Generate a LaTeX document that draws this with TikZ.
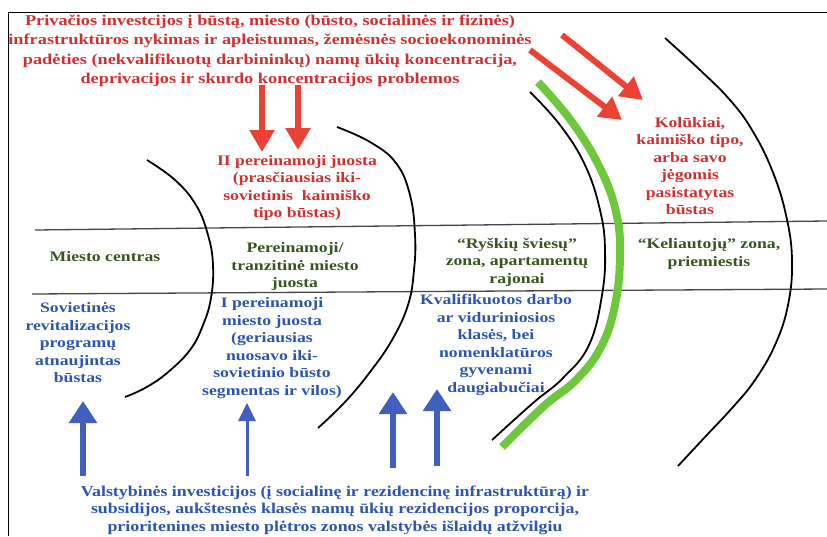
\documentclass[tikz,border=0pt]{standalone}
\usepackage{fontspec}
\setmainfont{Liberation Serif}[FakeStretch=1.22]
\newfontfamily\botfont{Liberation Serif}[FakeStretch=1.19]
\usetikzlibrary{arrows.meta}
\definecolor{redtxt}{RGB}{208,48,48}
\definecolor{redarr}{RGB}{236,66,52}
\definecolor{bluetxt}{RGB}{45,85,175}
\definecolor{bluearr}{RGB}{65,95,190}
\definecolor{greentxt}{RGB}{55,85,30}
\definecolor{greenarc}{RGB}{110,200,60}
\definecolor{rule}{RGB}{70,70,70}
\begin{document}
\begin{tikzpicture}[x=1pt,y=-1pt,
  txt/.style={align=center, inner sep=0pt, font=\fontsize{14.5}{17.5}\selectfont\bfseries},
  toptxt/.style={align=center, inner sep=0pt, font=\fontsize{15}{19.5}\selectfont\bfseries, text=redtxt},
  bottxt/.style={align=center, inner sep=0pt, font=\botfont\fontsize{15}{17.5}\selectfont\bfseries, text=bluetxt},
  arcline/.style={draw=black, line width=1.8pt},
  hline/.style={draw=rule, line width=1.3pt},
  redarrow/.style={draw=redarr, line width=6pt, -{Triangle[width=24pt,length=22pt]}},
  bigblue/.style={draw=bluearr, line width=6pt, -{Triangle[width=27pt,length=22pt]}},
  thinblue/.style={draw=bluearr, line width=3pt, -{Triangle[width=17pt,length=18pt]}}]
\useasboundingbox (0,0) rectangle (827,536);
% frame
\draw[line width=1pt] (8,536) -- (8,12) -- (827,12);
% horizontal rules
\draw[hline] (35,230) -- (827,221);
\draw[hline] (32,294) -- (827,289);
% arcs
\draw[arcline] plot[smooth, tension=0.7] coordinates {(147,160) (175,180) (196,205) (208,235) (213,265) (211,298) (203,325) (190,350) (167,373) (145,388) (125,397)};
\draw[arcline] plot[smooth, tension=0.7] coordinates {(337,127) (370,142) (396,163) (410,195) (415,235) (414,270) (408,305) (392,340) (370,372) (345,402) (318,428)};
\draw[arcline] plot[smooth, tension=0.7] coordinates {(530,92) (560,125) (585,165) (600,210) (605,250) (602,295) (589,345) (563,378) (533,403) (492,440)};
\draw[draw=greenarc, line width=8pt] plot[smooth, tension=0.7] coordinates {(538,82) (572,122) (600,168) (616,212) (620,255) (615,305) (601,347) (576,380) (544,406) (502,447)};
\draw[arcline] plot[smooth, tension=0.7] coordinates {(665,38) (700,70) (730,100) (752,130) (772,170) (786,215) (792,260) (788,305) (775,345) (755,380) (733,407) (705,437) (678,466)};
% red arrows
\coordinate (ra1s) at (262,85);  \coordinate (ra1e) at (262,152);
\coordinate (ra2s) at (298,85);  \coordinate (ra2e) at (298,150);
\coordinate (ra3s) at (562,35);  \coordinate (ra3e) at (643,100);
\coordinate (ra4s) at (530,50);  \coordinate (ra4e) at (622,120);
\draw[redarrow] (ra1s) -- (ra1e);
\draw[redarrow] (ra2s) -- (ra2e);
\draw[redarrow] (ra3s) -- (ra3e);
\draw[redarrow] (ra4s) -- (ra4e);
% blue arrows
\coordinate (ba1s) at (83,476);  \coordinate (ba1e) at (83,401);
\coordinate (ba2s) at (247,476); \coordinate (ba2e) at (247,403);
\coordinate (ba3s) at (393,468); \coordinate (ba3e) at (393,392);
\coordinate (ba4s) at (437,466); \coordinate (ba4e) at (437,389);
\draw[bigblue] (ba1s) -- (ba1e);
\draw[thinblue] (ba2s) -- (ba2e);
\draw[bigblue] (ba3s) -- (ba3e);
\draw[bigblue] (ba4s) -- (ba4e);
% texts
\node[toptxt] (top) at (270,51) {Privačios investcijos į būstą, miesto (būsto, socialinės ir fizinės)\\infrastruktūros nykimas ir apleistumas, žemėsnės socioekonominės\\padėties (nekvalifikuotų darbininkų) namų ūkių koncentracija,\\deprivacijos ir skurdo koncentracijos problemos};
\node[txt, text=redtxt] (ii) at (297,188) {II pereinamoji juosta\\(prasčiausias iki-\\sovietinis\ \ kaimiško\\tipo būstas)};
\node[txt, text=redtxt] (kol) at (690,166) {Kolūkiai,\\kaimiško tipo,\\arba savo\\jėgomis\\pasistatytas\\būstas};
\node[txt, text=greentxt] (mc) at (105,257) {Miesto centras};
\node[txt, text=greentxt] (per) at (295,267) {Pereinamoji/\\tranzitinė miesto\\juosta};
\node[txt, text=greentxt] (rys) at (517,262) {“Ryškių šviesų”\\zona, apartamentų\\rajonai};
\node[txt, text=greentxt] (kel) at (709,254) {“Keliautojų” zona,\\priemiestis};
\node[txt, text=bluetxt] (sov) at (78,343) {Sovietinės\\revitalizacijos\\programų\\atnaujintas\\būstas};
\node[txt, text=bluetxt] (ip) at (272,348) {I pereinamoji\\miesto juosta\\(geriausias\\nuosavo iki-\\sovietinio būsto\\segmentas ir vilos)};
\node[txt, text=bluetxt] (kva) at (496,345) {Kvalifikuotos darbo\\ar viduriniosios\\klasės, bei\\nomenklatūros\\gyvenami\\daugiabučiai};
\node[bottxt] (bot) at (335,510) {Valstybinės investicijos (į socialinę ir rezidencinę infrastruktūrą) ir\\subsidijos, aukštesnės klasės namų ūkių rezidencijos proporcija,\\prioritenines miesto plėtros zonos valstybės išlaidų atžvilgiu};
\end{tikzpicture}
\end{document}
